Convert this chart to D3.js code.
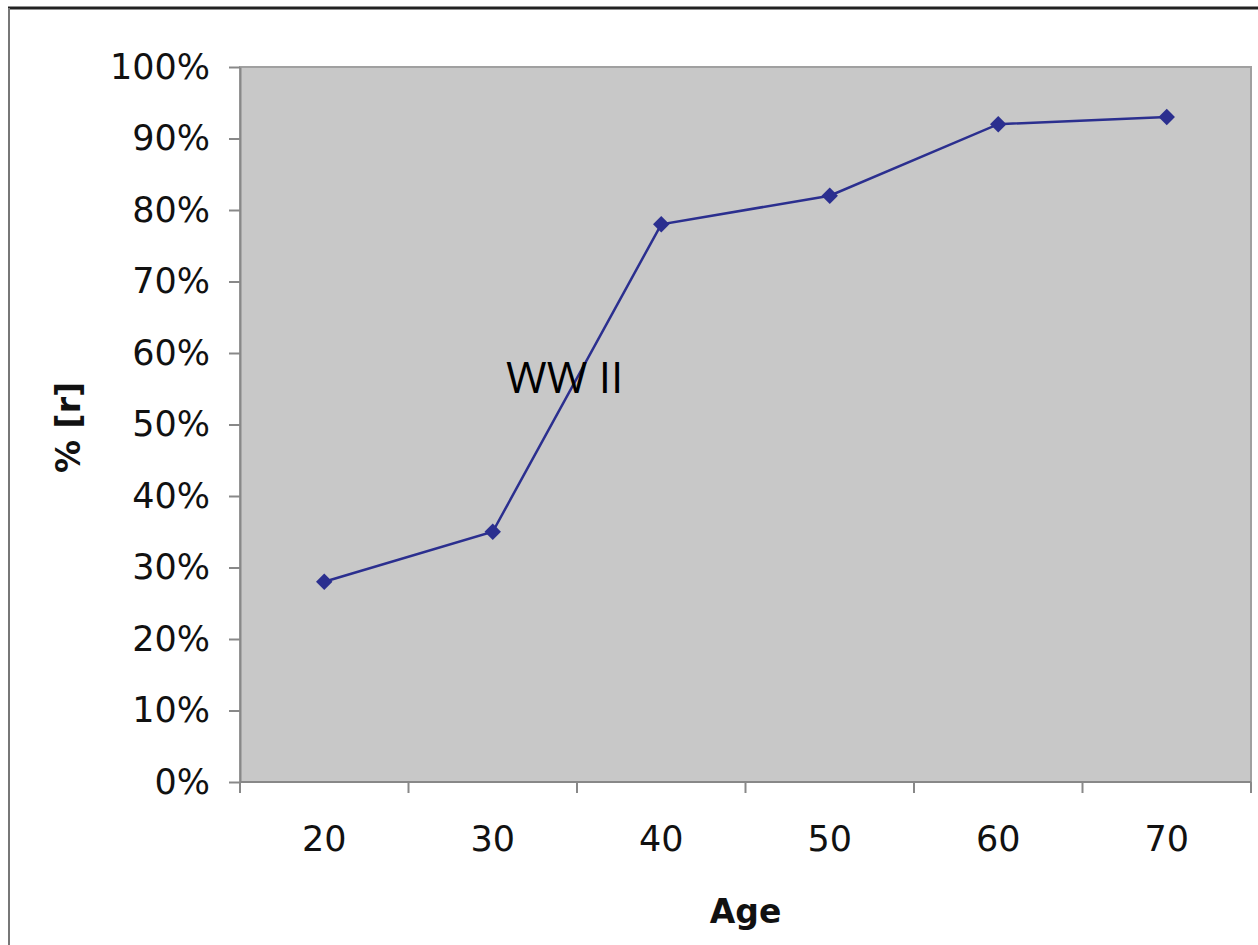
<!DOCTYPE html>
<html lang="en">
<head>
  <meta charset="UTF-8">
  <title>% [r] by Age</title>
  <style>
    body {
      margin: 0;
      padding: 0;
      background-color: white;
    }
    .axis text {
      font-family: "DejaVu Sans", Verdana, sans-serif;
      font-size: 35px;
      fill: #111;
    }
    .axis path, .axis line {
      stroke: #888;
      stroke-width: 2;
    }
    .axis-title {
      font-family: "DejaVu Sans", Verdana, sans-serif;
      font-size: 33px;
      font-weight: bold;
      fill: #111;
    }
    .line {
      fill: none;
      stroke: #2b2f8f;
      stroke-width: 2.5;
    }
    .marker {
      fill: #2b2f8f;
    }
    .note {
      font-family: "Open Sans", sans-serif;
      font-size: 44px;
      fill: #000;
    }
  </style>
</head>
<body>
  <div id="chart"></div>

  <script src="https://d3js.org/d3.v7.min.js"></script>
  <script>
    // data
    var ages = [20, 30, 40, 50, 60, 70];
    var shares = [0.28, 0.35, 0.78, 0.82, 0.92, 0.93];
    var yTicks = [0, 0.1, 0.2, 0.3, 0.4, 0.5, 0.6, 0.7, 0.8, 0.9, 1];
    var noteText = "WW II";

    var width = 1258, height = 945;
    var margin = {top: 67, right: 7, bottom: 163, left: 240};

    var svg = d3.select("#chart").append("svg")
                .attr("width", width)
                .attr("height", height);

    // outer frame (top and left edge of the original image)
    svg.append("line")
       .attr("x1", 8).attr("y1", 8).attr("x2", width).attr("y2", 8)
       .attr("stroke", "#222").attr("stroke-width", 3);
    svg.append("line")
       .attr("x1", 9).attr("y1", 8).attr("x2", 9).attr("y2", height)
       .attr("stroke", "#777").attr("stroke-width", 2);

    var x = d3.scaleBand()
              .domain(ages)
              .range([margin.left, width - margin.right])
              .padding(0);

    var y = d3.scaleLinear()
              .domain([0, 1])
              .range([height - margin.bottom, margin.top]);

    // plot area
    svg.append("rect")
       .attr("x", x.range()[0])
       .attr("y", y(1))
       .attr("width", x.range()[1] - x.range()[0])
       .attr("height", y(0) - y(1))
       .attr("fill", "#c8c8c8")
       .attr("stroke", "#a0a0a0")
       .attr("stroke-width", 2);

    // y axis
    svg.append("g")
       .attr("class", "axis axis--y")
       .attr("transform", "translate(" + margin.left + ",0)")
       .call(d3.axisLeft(y).tickValues(yTicks).tickFormat(d3.format(".0%")).tickSize(11).tickSizeOuter(0).tickPadding(19));

    // x axis: labels in the middle of each band, ticks on band edges
    var xAxis = svg.append("g")
       .attr("class", "axis axis--x")
       .attr("transform", "translate(0," + y(0) + ")")
       .call(d3.axisBottom(x).tickSize(0).tickSizeOuter(0).tickPadding(44));
    xAxis.select(".domain").remove();
    xAxis.append("line")
       .attr("x1", x.range()[0]).attr("x2", x.range()[1])
       .attr("y1", 0).attr("y2", 0);

    var edges = ages.map(function(d) { return x(d); }).concat([x.range()[1]]);
    xAxis.selectAll(".edge")
       .data(edges)
       .enter().append("line")
       .attr("class", "edge")
       .attr("x1", function(d) { return d; })
       .attr("x2", function(d) { return d; })
       .attr("y1", 0)
       .attr("y2", 11);

    // axis titles
    svg.append("text")
       .attr("class", "axis-title")
       .attr("x", x.range()[0] + (x.range()[1] - x.range()[0]) / 2)
       .attr("y", 923)
       .attr("text-anchor", "middle")
       .text("Age");

    svg.append("text")
       .attr("class", "axis-title")
       .attr("transform", "translate(80," + (y(0.5) + 3) + ") rotate(-90)")
       .attr("text-anchor", "middle")
       .text("% [r]");

    // series
    var pts = ages.map(function(a, i) { return [x(a) + x.bandwidth() / 2, y(shares[i])]; });

    svg.append("path")
       .datum(pts)
       .attr("class", "line")
       .attr("d", d3.line());

    svg.selectAll(".marker")
       .data(pts)
       .enter().append("path")
       .attr("class", "marker")
       .attr("d", d3.symbol().type(d3.symbolSquare).size(135))
       .attr("transform", function(d) { return "translate(" + d[0] + "," + d[1] + ") rotate(45)"; });

    // annotation
    svg.append("text")
       .attr("class", "note")
       .attr("x", 506)
       .attr("y", 393)
       .text(noteText);
  </script>
</body>
</html>
